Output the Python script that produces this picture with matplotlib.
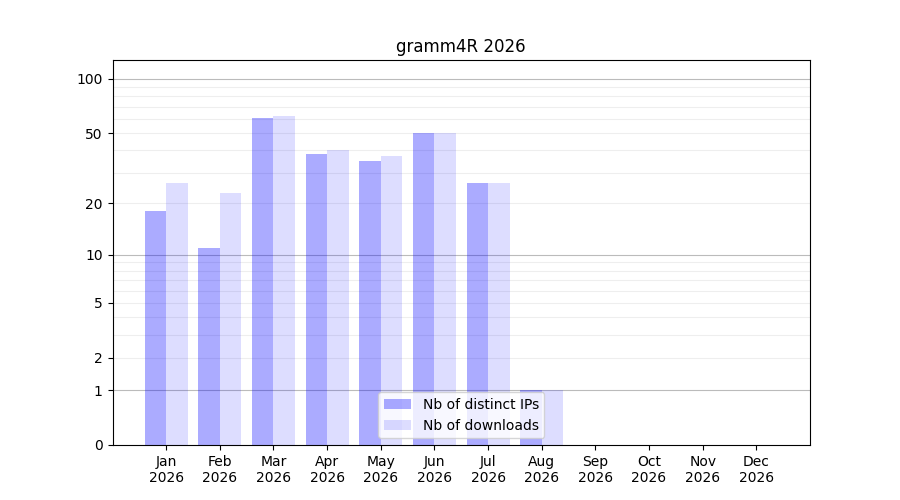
import numpy as np
import matplotlib
matplotlib.use('Agg')
import matplotlib.pyplot as plt

months = ['Jan', 'Feb', 'Mar', 'Apr', 'May', 'Jun', 'Jul', 'Aug', 'Sep', 'Oct', 'Nov', 'Dec']
year = 2026
ips = [18, 11, 61, 38, 35, 50, 26, 1, 0, 0, 0, 0]
downloads = [26, 23, 62, 40, 37, 50, 26, 1, 0, 0, 0, 0]
yticks = [0, 1, 2, 5, 10, 20, 50, 100]

fwd = lambda v: np.log10(1 + np.asarray(v, dtype=float))
inv = lambda v: 10 ** np.asarray(v, dtype=float) - 1

fig, ax = plt.subplots(figsize=(9, 5), dpi=100)
x = np.arange(1, len(months) + 1)
ax.bar(x, ips, width=-0.4, align='edge', color='blue', alpha=0.33, lw=0,
       label='Nb of distinct IPs', zorder=2)
ax.bar(x, downloads, width=0.4, align='edge', color='blue', alpha=0.135, lw=0,
       label='Nb of downloads', zorder=2)

ax.set_yscale('function', functions=(fwd, inv))
ax.set_ylim(0, 127)
ax.set_xlim(0, 13)
ax.set_yticks(yticks)
ax.set_yticklabels([str(t) for t in yticks])
minor = [2, 3, 4, 5, 6, 7, 8, 9, 20, 30, 40, 50, 60, 70, 80, 90]
ax.set_yticks(minor, minor=True)
ax.tick_params(axis='y', which='minor', length=0)
for v in [1, 10, 100]:
    ax.axhline(v, color='#bbbbbb', lw=0.8, zorder=1)
for v in minor:
    ax.axhline(v, color='#eeeeee', lw=0.8, zorder=1)

ax.set_xticks(x)
ax.set_xticklabels([f'{m}\n{year}' for m in months])
ax.set_title(f'gramm4R {year}')
ax.legend(loc='lower center')
fig.savefig('out.png')
